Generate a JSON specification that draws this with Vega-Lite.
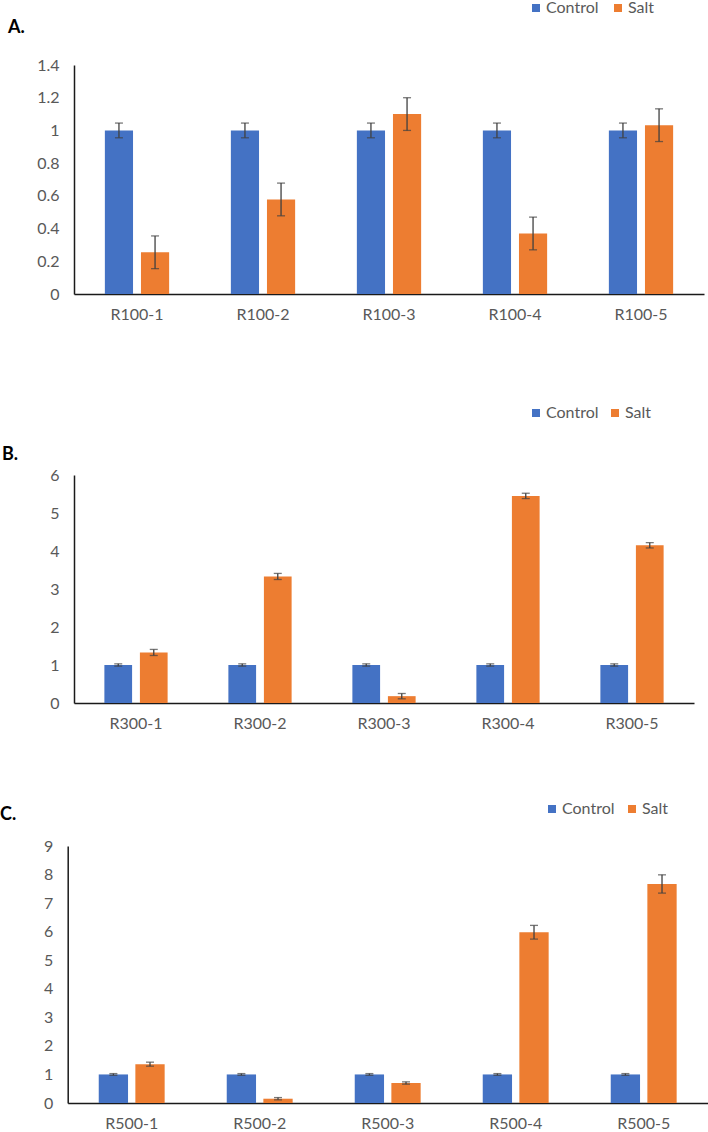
{
  "$schema": "https://vega.github.io/schema/vega-lite/v6.json",
  "background": "white",
  "padding": {"left": 0, "top": 0, "right": 0, "bottom": 0},
  "autosize": {"type": "pad"},
  "datasets": {
    "A": [
      {"sample": "R100-1", "group": "Control", "value": 1.0, "lo": 0.955, "hi": 1.045},
      {"sample": "R100-1", "group": "Salt", "value": 0.255, "lo": 0.155, "hi": 0.355},
      {"sample": "R100-2", "group": "Control", "value": 1.0, "lo": 0.955, "hi": 1.045},
      {"sample": "R100-2", "group": "Salt", "value": 0.578, "lo": 0.478, "hi": 0.678},
      {"sample": "R100-3", "group": "Control", "value": 1.0, "lo": 0.955, "hi": 1.045},
      {"sample": "R100-3", "group": "Salt", "value": 1.1, "lo": 1.0, "hi": 1.2},
      {"sample": "R100-4", "group": "Control", "value": 1.0, "lo": 0.955, "hi": 1.045},
      {"sample": "R100-4", "group": "Salt", "value": 0.37, "lo": 0.27, "hi": 0.47},
      {"sample": "R100-5", "group": "Control", "value": 1.0, "lo": 0.955, "hi": 1.045},
      {"sample": "R100-5", "group": "Salt", "value": 1.032, "lo": 0.932, "hi": 1.132}
    ],
    "B": [
      {"sample": "R300-1", "group": "Control", "value": 1.0, "lo": 0.97, "hi": 1.03},
      {"sample": "R300-1", "group": "Salt", "value": 1.33, "lo": 1.25, "hi": 1.41},
      {"sample": "R300-2", "group": "Control", "value": 1.0, "lo": 0.97, "hi": 1.03},
      {"sample": "R300-2", "group": "Salt", "value": 3.33, "lo": 3.25, "hi": 3.41},
      {"sample": "R300-3", "group": "Control", "value": 1.0, "lo": 0.97, "hi": 1.03},
      {"sample": "R300-3", "group": "Salt", "value": 0.18, "lo": 0.11, "hi": 0.25},
      {"sample": "R300-4", "group": "Control", "value": 1.0, "lo": 0.97, "hi": 1.03},
      {"sample": "R300-4", "group": "Salt", "value": 5.45, "lo": 5.38, "hi": 5.52},
      {"sample": "R300-5", "group": "Control", "value": 1.0, "lo": 0.97, "hi": 1.03},
      {"sample": "R300-5", "group": "Salt", "value": 4.15, "lo": 4.08, "hi": 4.22}
    ],
    "C": [
      {"sample": "R500-1", "group": "Control", "value": 1.0, "lo": 0.97, "hi": 1.03},
      {"sample": "R500-1", "group": "Salt", "value": 1.36, "lo": 1.29, "hi": 1.43},
      {"sample": "R500-2", "group": "Control", "value": 1.0, "lo": 0.97, "hi": 1.03},
      {"sample": "R500-2", "group": "Salt", "value": 0.15, "lo": 0.11, "hi": 0.19},
      {"sample": "R500-3", "group": "Control", "value": 1.0, "lo": 0.97, "hi": 1.03},
      {"sample": "R500-3", "group": "Salt", "value": 0.7, "lo": 0.66, "hi": 0.74},
      {"sample": "R500-4", "group": "Control", "value": 1.0, "lo": 0.97, "hi": 1.03},
      {"sample": "R500-4", "group": "Salt", "value": 5.98, "lo": 5.74, "hi": 6.22},
      {"sample": "R500-5", "group": "Control", "value": 1.0, "lo": 0.97, "hi": 1.03},
      {"sample": "R500-5", "group": "Salt", "value": 7.67, "lo": 7.35, "hi": 7.99}
    ]
  },
  "config": {
    "view": {"stroke": null},
    "font": "Lato",
    "axis": {
      "labelFont": "Lato",
      "labelFontSize": 16,
      "labelColor": "#595959",
      "labelOverlap": false,
      "domainColor": "#1a1a1a",
      "domainWidth": 1.5,
      "ticks": false,
      "grid": false
    },
    "axisX": {"labelAngle": 0, "labelPadding": 12},
    "axisY": {"labelPadding": 15},
    "legend": {
      "orient": "none",
      "direction": "horizontal",
      "title": null,
      "symbolType": "square",
      "symbolSize": 64,
      "symbolStrokeWidth": 0,
      "labelFont": "Lato",
      "labelFontSize": 16,
      "labelColor": "#595959",
      "labelOffset": 2
    },
    "title": {
      "font": "Lato",
      "fontSize": 18,
      "fontWeight": "bold",
      "color": "#000000",
      "anchor": "start",
      "frame": "group"
    }
  },
  "spacing": 83,
  "resolve": {
    "scale": {"x": "independent", "y": "independent", "color": "independent", "xOffset": "independent"},
    "legend": {"color": "independent"}
  },
  "vconcat": [
    {
      "width": 630,
      "height": 229,
      "data": {"name": "A"},
      "title": {"text": "A.", "dx": -66, "dy": 41},
      "encoding": {
        "x": {"field": "sample", "type": "nominal", "sort": null, "title": null,
          "scale": {"paddingInner": 0.49, "paddingOuter": 0.245}},
        "xOffset": {"field": "group", "type": "nominal", "sort": ["Control", "Salt"],
          "scale": {"paddingInner": 0.22, "paddingOuter": 0}}
      },
      "layer": [
        {
          "mark": {"type": "bar"},
          "encoding": {
            "y": {"field": "value", "type": "quantitative", "title": null,
              "scale": {"domain": [0, 1.4], "nice": false},
              "axis": {"values": [0, 0.2, 0.4, 0.6, 0.8, 1, 1.2, 1.4], "tickCount": 20, "format": "~g", "labelOverlap": false}},
            "color": {"field": "group", "type": "nominal",
              "scale": {"domain": ["Control", "Salt"], "range": ["#4472C4", "#ED7D31"]},
              "legend": {"legendX": 454, "legendY": -65, "columnPadding": 11}}
          }
        },
        {
          "mark": {"type": "rule", "color": "#404040", "strokeWidth": 1.3},
          "encoding": {"y": {"field": "lo", "type": "quantitative"}, "y2": {"field": "hi"}}
        },
        {
          "mark": {"type": "tick", "color": "#404040", "thickness": 1.3, "size": 8},
          "encoding": {"y": {"field": "lo", "type": "quantitative"}}
        },
        {
          "mark": {"type": "tick", "color": "#404040", "thickness": 1.3, "size": 8},
          "encoding": {"y": {"field": "hi", "type": "quantitative"}}
        }
      ]
    },
    {
      "spacing": 70,
      "resolve": {
        "scale": {"x": "independent", "y": "independent", "color": "independent", "xOffset": "independent"},
        "legend": {"color": "independent"}
      },
      "vconcat": [
        {
          "width": 620,
          "height": 228,
          "data": {"name": "B"},
          "title": {"text": "B.", "dx": -72, "dy": 63},
          "encoding": {
            "x": {"field": "sample", "type": "nominal", "sort": null, "title": null,
              "scale": {"paddingInner": 0.49, "paddingOuter": 0.245}},
            "xOffset": {"field": "group", "type": "nominal", "sort": ["Control", "Salt"],
              "scale": {"paddingInner": 0.22, "paddingOuter": 0}}
          },
          "layer": [
            {
              "mark": {"type": "bar"},
              "encoding": {
                "y": {"field": "value", "type": "quantitative", "title": null,
                  "scale": {"domain": [0, 6], "nice": false},
                  "axis": {"values": [0, 1, 2, 3, 4, 5, 6], "tickCount": 20, "format": "~g", "labelOverlap": false}},
                "color": {"field": "group", "type": "nominal",
                  "scale": {"domain": ["Control", "Salt"], "range": ["#4472C4", "#ED7D31"]},
                  "legend": {"legendX": 454, "legendY": -70, "columnPadding": 8}}
              }
            },
            {
              "mark": {"type": "rule", "color": "#404040", "strokeWidth": 1.3},
              "encoding": {"y": {"field": "lo", "type": "quantitative"}, "y2": {"field": "hi"}}
            },
            {
              "mark": {"type": "tick", "color": "#404040", "thickness": 1.3, "size": 8},
              "encoding": {"y": {"field": "lo", "type": "quantitative"}}
            },
            {
              "mark": {"type": "tick", "color": "#404040", "thickness": 1.3, "size": 8},
              "encoding": {"y": {"field": "hi", "type": "quantitative"}}
            }
          ]
        },
        {
          "width": 634,
          "height": 257,
          "data": {"name": "C"},
          "title": {"text": "C.", "dx": -74, "dy": 27},
          "encoding": {
            "x": {"field": "sample", "type": "nominal", "sort": null, "title": null,
              "scale": {"range": [-6.3, 633.7], "paddingInner": 0.485, "paddingOuter": 0.2425}},
            "xOffset": {"field": "group", "type": "nominal", "sort": ["Control", "Salt"],
              "scale": {"paddingInner": 0.2, "paddingOuter": 0}}
          },
          "layer": [
            {
              "mark": {"type": "bar"},
              "encoding": {
                "y": {"field": "value", "type": "quantitative", "title": null,
                  "scale": {"domain": [0, 9], "nice": false},
                  "axis": {"values": [0, 1, 2, 3, 4, 5, 6, 7, 8, 9], "tickCount": 20, "format": "~g", "labelOverlap": false, "offset": 6.3}},
                "color": {"field": "group", "type": "nominal",
                  "scale": {"domain": ["Control", "Salt"], "range": ["#4472C4", "#ED7D31"]},
                  "legend": {"legendX": 470, "legendY": -45, "columnPadding": 9}}
              }
            },
            {
              "mark": {"type": "rule", "color": "#404040", "strokeWidth": 1.3},
              "encoding": {"y": {"field": "lo", "type": "quantitative"}, "y2": {"field": "hi"}}
            },
            {
              "mark": {"type": "tick", "color": "#404040", "thickness": 1.3, "size": 8},
              "encoding": {"y": {"field": "lo", "type": "quantitative"}}
            },
            {
              "mark": {"type": "tick", "color": "#404040", "thickness": 1.3, "size": 8},
              "encoding": {"y": {"field": "hi", "type": "quantitative"}}
            }
          ]
        }
      ]
    }
  ]
}
